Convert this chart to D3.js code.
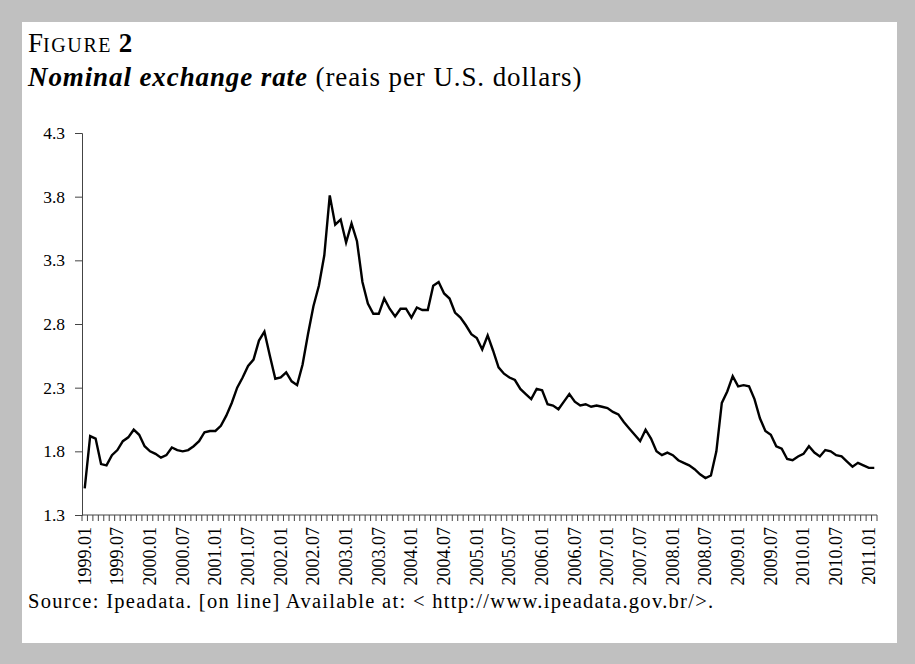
<!DOCTYPE html>
<html>
<head>
<meta charset="utf-8">
<script src="https://cdn.jsdelivr.net/npm/d3@7"></script>
<style>
  body { margin: 0; background: #c0c0c0; }
  svg { display: block; font-family: "Liberation Serif", "DejaVu Serif", serif; }
</style>
</head>
<body>
<svg width="915" height="664"></svg>
<script>
// Monthly nominal exchange rate, reais per US dollar, 1999.01 - 2011.02
const months = ['01','02','03','04','05','06','07','08','09','10','11','12'];
const years = d3.range(1999, 2012);
const rates = [
  1.51, 1.92, 1.90, 1.70, 1.69, 1.77, 1.81, 1.88, 1.91, 1.97, 1.93, 1.84, // 1999
  1.80, 1.78, 1.75, 1.77, 1.83, 1.81, 1.80, 1.81, 1.84, 1.88, 1.95, 1.96, // 2000
  1.96, 2.00, 2.08, 2.18, 2.30, 2.38, 2.47, 2.52, 2.67, 2.74, 2.55, 2.37, // 2001
  2.38, 2.42, 2.35, 2.32, 2.48, 2.72, 2.94, 3.10, 3.34, 3.81, 3.58, 3.62, // 2002
  3.44, 3.59, 3.45, 3.13, 2.96, 2.88, 2.88, 3.00, 2.92, 2.86, 2.92, 2.92, // 2003
  2.85, 2.93, 2.91, 2.91, 3.10, 3.13, 3.04, 3.00, 2.89, 2.85, 2.79, 2.72, // 2004
  2.69, 2.60, 2.71, 2.59, 2.46, 2.41, 2.38, 2.36, 2.29, 2.25, 2.21, 2.29, // 2005
  2.28, 2.17, 2.16, 2.13, 2.19, 2.25, 2.19, 2.16, 2.17, 2.15, 2.16, 2.15, // 2006
  2.14, 2.11, 2.09, 2.03, 1.98, 1.93, 1.88, 1.97, 1.90, 1.80, 1.77, 1.79, // 2007
  1.77, 1.73, 1.71, 1.69, 1.66, 1.62, 1.59, 1.61, 1.80, 2.18, 2.27, 2.39, // 2008
  2.31, 2.32, 2.31, 2.21, 2.06, 1.96, 1.93, 1.84, 1.82, 1.74, 1.73, 1.76, // 2009
  1.78, 1.84, 1.79, 1.76, 1.81, 1.80, 1.77, 1.76, 1.72, 1.68, 1.71, 1.69, // 2010
  1.67, 1.67                                                              // 2011
];
const yTicks = [1.3, 1.8, 2.3, 2.8, 3.3, 3.8, 4.3];

// category labels like 1999.01
const categories = [];
years.forEach(yr => months.forEach(m => categories.push(yr + '.' + m)));
categories.length = rates.length;
const data = categories.map((c, i) => ({cat: c, value: rates[i]}));

const svg = d3.select('svg');

// white panel inside the grey frame
svg.append('rect')
  .attr('x', 22).attr('y', 22)
  .attr('width', 875).attr('height', 621)
  .attr('fill', '#fff');

// title
const t1 = svg.append('text').attr('x', 28).attr('y', 52).attr('font-size', 27).attr('fill', '#000');
t1.append('tspan').text('F');
t1.append('tspan').attr('font-size', 20).attr('letter-spacing', 1.6).text('IGURE ');
t1.append('tspan').attr('font-weight', 'bold').text('2');

const t2 = svg.append('text').attr('x', 28).attr('y', 86).attr('font-size', 27)
  .attr('letter-spacing', 0.9).attr('fill', '#000');
t2.append('tspan').attr('font-weight', 'bold').attr('font-style', 'italic').text('Nominal exchange rate');
t2.append('tspan').text(' (reais per U.S. dollars)');

const margin = {top: 133, left: 82};
const width = 877 - 82;
const height = 515 - 133;

const x = d3.scaleBand().domain(categories).range([0, width]).padding(0);
const y = d3.scaleLinear().domain([1.3, 4.3]).range([height, 0]);

const chart = svg.append('g')
  .attr('transform', 'translate(' + margin.left + ',' + margin.top + ')');

// y axis
const yAxis = d3.axisLeft(y).tickValues(yTicks).tickFormat(d3.format('.1f')).tickSize(7).tickPadding(10);
const gy = chart.append('g').call(yAxis);
gy.select('.domain').attr('stroke', '#444');
gy.selectAll('.tick line').attr('stroke', '#444');
gy.selectAll('text').attr('font-size', 17.5).attr('font-family', '"Liberation Serif", serif').attr('fill', '#000');

// x axis: ticks between the months, labels every six months
const gx = chart.append('g').attr('transform', 'translate(0,' + height + ')');
gx.append('line').attr('x1', 0).attr('x2', width).attr('stroke', '#444');
gx.selectAll('.xt')
  .data(categories.concat(['end']))
  .enter().append('line')
  .attr('class', 'xt')
  .attr('x1', d => d === 'end' ? width : x(d))
  .attr('x2', d => d === 'end' ? width : x(d))
  .attr('y1', 0).attr('y2', 6)
  .attr('stroke', '#444');
gx.selectAll('.xl')
  .data(categories.filter((c, i) => i % 6 === 0))
  .enter().append('text')
  .attr('class', 'xl')
  .attr('transform', d => 'translate(' + (x(d) + x.bandwidth() / 2 + 6) + ',12) rotate(-90)')
  .attr('text-anchor', 'end')
  .attr('font-size', 18)
  .attr('fill', '#000')
  .text(d => d);

// the line
const line = d3.line().x(d => x(d.cat) + x.bandwidth() / 2).y(d => y(d.value));
chart.append('path')
  .datum(data)
  .attr('fill', 'none')
  .attr('stroke', '#000')
  .attr('stroke-width', 2.4)
  .attr('stroke-linejoin', 'miter')
  .attr('d', line);

// source
svg.append('text')
  .attr('x', 28).attr('y', 608)
  .attr('font-size', 20.5)
  .attr('letter-spacing', 1.3)
  .attr('fill', '#000')
  .text('Source: Ipeadata. [on line] Available at: < http://www.ipeadata.gov.br/>.');
</script>
</body>
</html>
